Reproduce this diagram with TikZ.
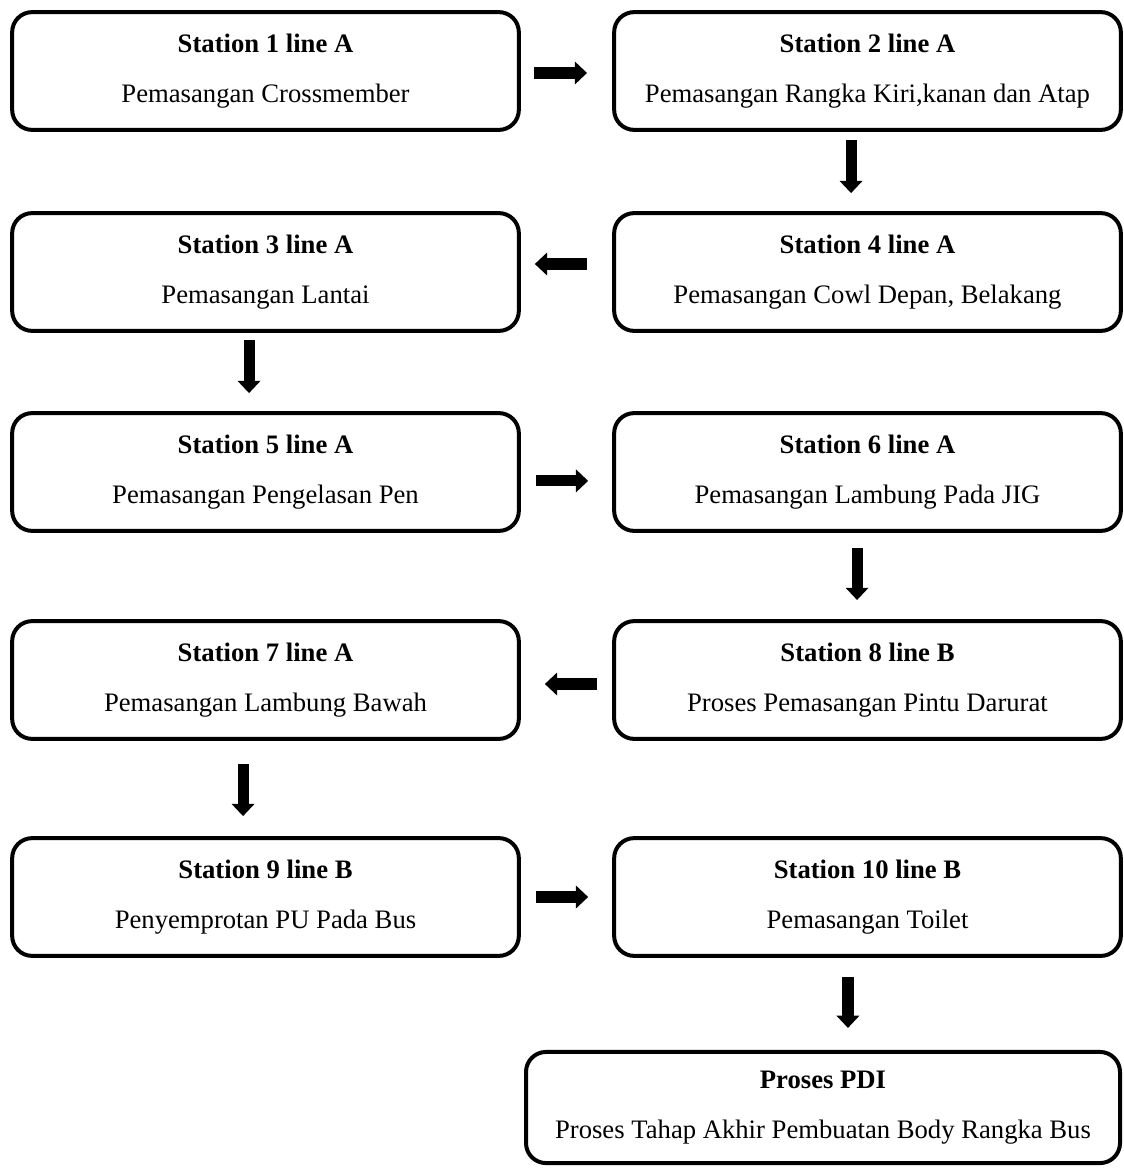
\documentclass[tikz,border=0pt]{standalone}
\usepackage{fontspec}
\setmainfont{Liberation Serif}
\usetikzlibrary{arrows.meta}

\begin{document}
\begin{tikzpicture}[x=0.45pt,y=-0.45pt,
    station/.style={draw, line width=1.8pt, rounded corners=9pt,
        minimum width=228pt, minimum height=53pt, inner sep=0pt,
        align=center, font=\fontsize{12}{14}\selectfont},
    fat/.style={line width=5pt, -{Triangle[width=10pt,length=5.5pt]}}]
    \useasboundingbox (0,0) rectangle (1123,1169);
    \node[station] (s1) at (265.5,71) {\textbf{Station 1 line A}\\[8.5pt]Pemasangan Crossmember};
    \node[station] (s2) at (867.5,71) {\textbf{Station 2 line A}\\[8.5pt]Pemasangan Rangka Kiri,kanan dan Atap};
    \node[station] (s3) at (265.5,272) {\textbf{Station 3 line A}\\[8.5pt]Pemasangan Lantai};
    \node[station] (s4) at (867.5,272) {\textbf{Station 4 line A}\\[8.5pt]Pemasangan Cowl Depan, Belakang};
    \node[station] (s5) at (265.5,472) {\textbf{Station 5 line A}\\[8.5pt]Pemasangan Pengelasan Pen};
    \node[station] (s6) at (867.5,472) {\textbf{Station 6 line A}\\[8.5pt]Pemasangan Lambung Pada JIG};
    \node[station] (s7) at (265.5,680) {\textbf{Station 7 line A}\\[8.5pt]Pemasangan Lambung Bawah};
    \node[station] (s8) at (867.5,680) {\textbf{Station 8 line B}\\[8.5pt]Proses Pemasangan Pintu Darurat};
    \node[station] (s9) at (265.5,897) {\textbf{Station 9 line B}\\[8.5pt]Penyemprotan PU Pada Bus};
    \node[station] (s10) at (867.5,897) {\textbf{Station 10 line B}\\[8.5pt]Pemasangan Toilet};
    \node[station, minimum width=267.3pt, minimum height=50pt] (pdi) at (823,1107.5) {\textbf{Proses PDI}\\[8.5pt]Proses Tahap Akhir Pembuatan Body Rangka Bus};
    \draw[fat, shorten <=5.9pt, shorten >=11.3pt] ([yshift=-0.9pt]s1.east) -- ([yshift=-0.9pt]s2.west);
    \draw[fat, shorten <=3.6pt, shorten >=8.1pt] ([xshift=-7.4pt]s2.south) -- ([xshift=-7.4pt]s4.north);
    \draw[fat, shorten <=11.3pt, shorten >=6.3pt] ([yshift=3.6pt]s4.west) -- ([yshift=3.6pt]s3.east);
    \draw[fat, shorten <=3.2pt, shorten >=8.1pt] ([xshift=-7.4pt]s3.south) -- ([xshift=-7.4pt]s5.north);
    \draw[fat, shorten <=6.8pt, shorten >=10.8pt] ([yshift=-4pt]s5.east) -- ([yshift=-4pt]s6.west);
    \draw[fat, shorten <=6.8pt, shorten >=8.6pt] ([xshift=-4.7pt]s6.south) -- ([xshift=-4.7pt]s8.north);
    \draw[fat, shorten <=6.8pt, shorten >=10.8pt] ([yshift=-1.8pt]s8.west) -- ([yshift=-1.8pt]s7.east);
    \draw[fat, shorten <=10.4pt, shorten >=9pt] ([xshift=-10.1pt]s7.south) -- ([xshift=-10.1pt]s9.north);
    \draw[fat, shorten <=6.8pt, shorten >=10.8pt] (s9.east) -- (s10.west);
    \draw[fat, shorten <=8.6pt, shorten >=9.9pt] ([xshift=-8.8pt]s10.south) -- ([xshift=-8.8pt]s10.south |- pdi.north);
\end{tikzpicture}
\end{document}
